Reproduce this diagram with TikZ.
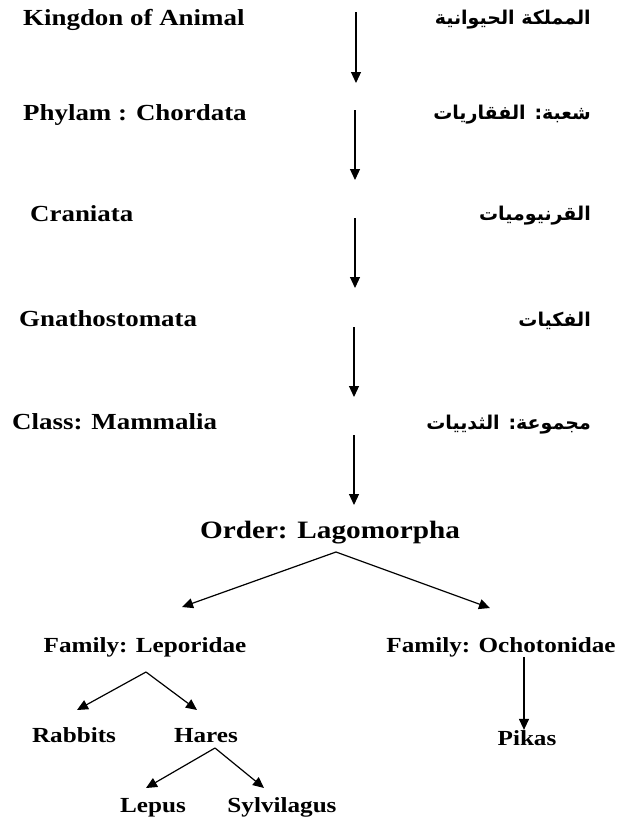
\documentclass[tikz,border=0pt]{standalone}
\usepackage{fontspec}
\usepackage{tikz}
\usetikzlibrary{positioning, arrows.meta}
\setmainfont{Liberation Serif}
\newfontfamily\engfont[FakeStretch=1.17]{Liberation Serif}
\newfontfamily\arabicfont[Script=Arabic]{DejaVu Sans Bold}
\TeXXeTstate=1

\begin{document}
\begin{tikzpicture}[
        x=1pt, y=-1pt,
        eng/.style={font=\engfont\bfseries\fontsize{23}{27}\selectfont, inner sep=0pt, anchor=base west},
        ord/.style={font=\engfont\bfseries\fontsize{25}{30}\selectfont, inner sep=0pt, anchor=base},
        low/.style={font=\engfont\bfseries\fontsize{21.5}{25}\selectfont, inner sep=0pt, anchor=base},
        ar/.style={font=\arabicfont\fontsize{19}{23}\selectfont, inner sep=0pt, anchor=base east},
        arr/.style={-{Triangle[length=11pt, width=10pt]}, line width=1.2pt}
    ]
    \useasboundingbox (0,0) rectangle (617,825);

    % taxonomy levels, English and Arabic
    \node[eng] (kingdom) at (23,25) {Kingdon of Animal};
    \node[ar] (kingdomar) at (591,24) {\beginR المملكة الحيوانية\endR};
    \node[eng] (phylum) at (23,120) {Phylam : Chordata};
    \node[ar] (phylumar) at (591,119) {\beginR شعبة: الفقاريات\endR};
    \node[eng] (crania) at (30,221) {Craniata};
    \node[ar] (craniaar) at (591,220) {\beginR القرنيوميات\endR};
    \node[eng] (gnatho) at (19,326) {Gnathostomata};
    \node[ar] (gnathoar) at (591,326) {\beginR الفكيات\endR};
    \node[eng] (class) at (12,429) {Class: Mammalia};
    \node[ar] (classar) at (591,429) {\beginR مجموعة: الثدييات\endR};

    % spine between levels
    \coordinate (s1) at (356,12);  \coordinate (e1) at (356,83);
    \coordinate (s2) at (355,110); \coordinate (e2) at (355,180);
    \coordinate (s3) at (355,218); \coordinate (e3) at (355,288);
    \coordinate (s4) at (354,327); \coordinate (e4) at (354,397);
    \coordinate (s5) at (354,435); \coordinate (e5) at (354,505);
    \foreach \i in {1,...,5} {
        \draw[arr] (s\i) -- (e\i);
    }

    % order and families
    \node[ord] (order) at (330,538) {Order: Lagomorpha};
    \node[low] (lepo) at (145,652) {Family: Leporidae};
    \node[low] (ocho) at (501,652) {Family: Ochotonidae};
    \node[low] (rabbits) at (74,742) {Rabbits};
    \node[low] (hares) at (206,742) {Hares};
    \node[low] (pikas) at (527,745) {Pikas};
    \node[low] (lepus) at (153,812) {Lepus};
    \node[low] (sylvi) at (282,812) {Sylvilagus};

    \coordinate (forkorder) at (336,552);
    \coordinate (tiplepo) at (182,607);
    \coordinate (tipocho) at (490,608);
    \coordinate (forklepo) at (146,672);
    \coordinate (tiprabbits) at (77,710);
    \coordinate (tiphares) at (197,710);
    \coordinate (forkhares) at (215,748);
    \coordinate (tiplepus) at (146,788);
    \coordinate (tipsylvi) at (264,788);

    \draw[arr] (forkorder) -- (tiplepo);
    \draw[arr] (forkorder) -- (tipocho);
    \draw[arr] (forklepo) -- (tiprabbits);
    \draw[arr] (forklepo) -- (tiphares);
    \draw[arr] (ocho.south -| 524,0) -- (pikas.north -| 524,0);
    \draw[arr] (forkhares) -- (tiplepus);
    \draw[arr] (forkhares) -- (tipsylvi);

\end{tikzpicture}
\end{document}
